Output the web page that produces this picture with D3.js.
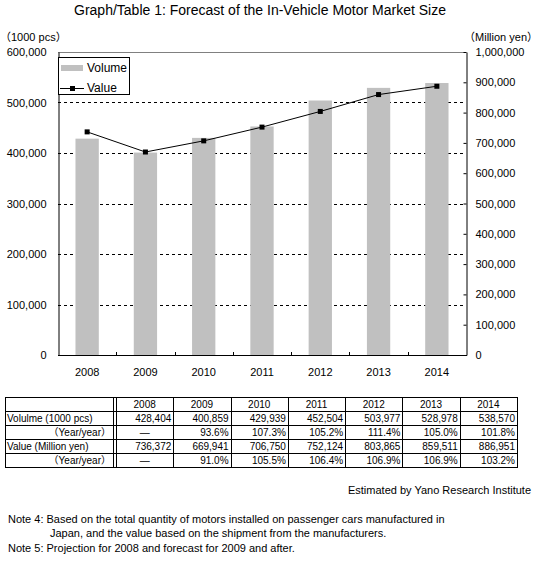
<!DOCTYPE html>
<html>
<head>
<meta charset="utf-8">
<script src="https://cdn.jsdelivr.net/npm/d3@7"></script>
<style>
  body { margin: 0; background: #fff; }
  svg { display: block; font-family: "Liberation Sans", Arial, "Noto Sans CJK JP", sans-serif; }
</style>
</head>
<body>
<svg id="chart" width="540" height="564"></svg>
<script>
"use strict"
// In-vehicle motor market: volume bars (left axis) + value line (right axis), with data table below

var years = ["2008", "2009", "2010", "2011", "2012", "2013", "2014"],
    volume = [428404, 400859, 429939, 452504, 503977, 528978, 538570],       // 1000 pcs
    value = [736372, 669941, 706750, 752124, 803865, 859511, 886951],        // Million yen
    volumeYoY = ["—", "93.6%", "107.3%", "105.2%", "111.4%", "105.0%", "101.8%"],
    valueYoY = ["—", "91.0%", "105.5%", "106.4%", "106.9%", "106.9%", "103.2%"],
    leftTicks = [0, 100000, 200000, 300000, 400000, 500000, 600000],
    rightTicks = [0, 100000, 200000, 300000, 400000, 500000, 600000, 700000, 800000, 900000, 1000000],
    rowLabels = ["Volulme (1000 pcs)", "（Year/year）", "Value (Million yen)", "（Year/year）"];

var svg = d3.select("svg#chart"),
    fmt = d3.format(","),
    plot = {left: 58, right: 466, top: 52, bottom: 355};

var x = d3.scaleBand().domain(years).range([plot.left, plot.right]).paddingInner(0.6).paddingOuter(0.3),
    xc = function(d) { return x(d) + x.bandwidth() / 2; },
    yL = d3.scaleLinear().domain([0, 600000]).range([plot.bottom, plot.top]),
    yR = d3.scaleLinear().domain([0, 1000000]).range([plot.bottom, plot.top]);

// Title
svg.append("text")
    .attr("x", 260).attr("y", 15)
    .attr("text-anchor", "middle")
    .style("font-size", "14px")
    .text("Graph/Table 1: Forecast of the In-Vehicle Motor Market Size");

// Unit labels
svg.append("text").attr("x", 0).attr("y", 41).style("font-size", "11px").text("（1000 pcs）");
svg.append("text").attr("x", 538).attr("y", 41).attr("text-anchor", "end")
    .style("font-size", "11px").text("（Million yen）");

// Gridlines (dashed) for left axis
svg.append("g")
  .selectAll("line")
    .data(leftTicks.filter(function(d) { return d > 0 && d < 600000; }))
  .enter().append("line")
    .attr("x1", plot.left).attr("x2", plot.right)
    .attr("y1", function(d) { return Math.round(yL(d)) + 0.5; })
    .attr("y2", function(d) { return Math.round(yL(d)) + 0.5; })
    .attr("stroke", "#000")
    .attr("stroke-dasharray", "3,3");

// Top border of plot area
svg.append("line")
    .attr("x1", plot.left).attr("x2", plot.right)
    .attr("y1", yL(600000) + 0.5).attr("y2", yL(600000) + 0.5)
    .attr("stroke", "#808080");

// Volume bars
svg.append("g")
  .selectAll("rect")
    .data(years)
  .enter().append("rect")
    .attr("x", function(d) { return x(d); })
    .attr("width", x.bandwidth())
    .attr("y", function(d, i) { return yL(volume[i]); })
    .attr("height", function(d, i) { return plot.bottom - yL(volume[i]); })
    .attr("fill", "#c0c0c0");

// Left axis
var gl = svg.append("g")
    .attr("transform", "translate(" + (plot.left + 0.5) + ",0)")
    .call(d3.axisLeft(yL).tickValues(leftTicks).tickSize(0).tickPadding(12).tickFormat(fmt));

// Right axis
var gr = svg.append("g")
    .attr("transform", "translate(" + (plot.right + 0.5) + ",0)")
    .call(d3.axisRight(yR).tickValues(rightTicks).tickSize(-3).tickSizeOuter(0).tickPadding(9).tickFormat(fmt));

[gl, gr].forEach(function(g) {
  g.select(".domain").attr("stroke", "#000");
  g.selectAll("text").style("font-size", "11px").attr("fill", "#000");
});

// Bottom axis: line, ticks between categories, labels at centers
svg.append("line")
    .attr("x1", plot.left).attr("x2", plot.right + 1)
    .attr("y1", plot.bottom + 0.5).attr("y2", plot.bottom + 0.5)
    .attr("stroke", "#000");
var step = x.step();
svg.append("g")
  .selectAll("line")
    .data(years.slice(1))
  .enter().append("line")
    .attr("x1", function(d) { return Math.round(xc(d) - step / 2) + 0.5; })
    .attr("x2", function(d) { return Math.round(xc(d) - step / 2) + 0.5; })
    .attr("y1", plot.bottom - 3).attr("y2", plot.bottom)
    .attr("stroke", "#000");
svg.append("g")
  .selectAll("text")
    .data(years)
  .enter().append("text")
    .attr("x", xc)
    .attr("y", 376)
    .attr("text-anchor", "middle")
    .style("font-size", "11px")
    .text(function(d) { return d; });

// Value line
var line = d3.line()
    .x(function(d, i) { return xc(years[i]); })
    .y(function(d) { return yR(d); });
svg.append("path")
    .datum(value)
    .attr("d", line)
    .attr("fill", "none")
    .attr("stroke", "#000")
    .attr("stroke-width", 1);
svg.append("g")
  .selectAll("rect")
    .data(value)
  .enter().append("rect")
    .attr("x", function(d, i) { return xc(years[i]) - 2.5; })
    .attr("y", function(d) { return yR(d) - 2.5; })
    .attr("width", 5).attr("height", 5)
    .attr("fill", "#000");

// Legend
var lg = svg.append("g");
lg.append("rect")
    .attr("x", 58.5).attr("y", 57.5).attr("width", 71).attr("height", 37)
    .attr("fill", "#fff").attr("stroke", "#000");
lg.append("rect").attr("x", 61).attr("y", 65).attr("width", 22).attr("height", 6).attr("fill", "#c0c0c0");
lg.append("text").attr("x", 87).attr("y", 72).style("font-size", "12px").text("Volume");
lg.append("line").attr("x1", 60).attr("x2", 84).attr("y1", 88.5).attr("y2", 88.5).attr("stroke", "#000");
lg.append("rect").attr("x", 70).attr("y", 86).attr("width", 5).attr("height", 5).attr("fill", "#000");
lg.append("text").attr("x", 87).attr("y", 92).style("font-size", "12px").text("Value");

// Data table
var tbl = {left: 5, labelRight: 113, colLeft: 116, right: 517, top: 397, rowH: 14},
    rows = [
      volume.map(fmt),
      volumeYoY,
      value.map(fmt),
      valueYoY
    ],
    col = d3.scaleBand().domain(years).range([tbl.colLeft, tbl.right]),
    tg = svg.append("g").style("font-size", "10px"),
    tBottom = tbl.top + tbl.rowH * 5;

// horizontal rules
tg.selectAll("line.h")
    .data(d3.range(6))
  .enter().append("line")
    .attr("class", "h")
    .attr("x1", tbl.left).attr("x2", tbl.right)
    .attr("y1", function(i) { return tbl.top + i * tbl.rowH + 0.5; })
    .attr("y2", function(i) { return tbl.top + i * tbl.rowH + 0.5; })
    .attr("stroke", "#000");
// vertical rules
var vx = [tbl.left, tbl.labelRight].concat(years.map(function(d) { return col(d); }), [tbl.right]);
tg.selectAll("line.v")
    .data(vx)
  .enter().append("line")
    .attr("class", "v")
    .attr("x1", function(d) { return Math.round(d) + 0.5; })
    .attr("x2", function(d) { return Math.round(d) + 0.5; })
    .attr("y1", tbl.top).attr("y2", tBottom + 1)
    .attr("stroke", "#000");

// header
tg.selectAll("text.hd")
    .data(years)
  .enter().append("text")
    .attr("class", "hd")
    .attr("x", function(d) { return col(d) + col.bandwidth() / 2; })
    .attr("y", tbl.top + 11)
    .attr("text-anchor", "middle")
    .text(function(d) { return d; });

// row labels
tg.selectAll("text.rl")
    .data(rowLabels)
  .enter().append("text")
    .attr("class", "rl")
    .attr("x", function(d, i) { return i % 2 ? tbl.labelRight - 2 : tbl.left + 2; })
    .attr("y", function(d, i) { return tbl.top + (i + 1) * tbl.rowH + 11; })
    .attr("text-anchor", function(d, i) { return i % 2 ? "end" : "start"; })
    .text(function(d) { return d; });

// cells
rows.forEach(function(r, ri) {
  tg.selectAll("text.c" + ri)
      .data(r)
    .enter().append("text")
      .attr("class", "c" + ri)
      .attr("x", function(d, i) {
        return d === "—" ? col(years[i]) + col.bandwidth() / 2 : col(years[i]) + col.bandwidth() - 2;
      })
      .attr("y", tbl.top + (ri + 1) * tbl.rowH + 11)
      .attr("text-anchor", function(d) { return d === "—" ? "middle" : "end"; })
      .text(function(d) { return d; });
});

// Source and notes
svg.append("text").attr("x", 531).attr("y", 494).attr("text-anchor", "end")
    .style("font-size", "11px").text("Estimated by Yano Research Institute");
var notes = [
  {x: 8, y: 523, t: "Note 4: Based on the total quantity of motors installed on passenger cars manufactured in"},
  {x: 50, y: 537, t: "Japan, and the value based on the shipment from the manufacturers."},
  {x: 8, y: 552, t: "Note 5: Projection for 2008 and forecast for 2009 and after."}
];
svg.append("g")
  .selectAll("text")
    .data(notes)
  .enter().append("text")
    .attr("x", function(d) { return d.x; })
    .attr("y", function(d) { return d.y; })
    .style("font-size", "11px")
    .text(function(d) { return d.t; });
</script>
</body>
</html>
